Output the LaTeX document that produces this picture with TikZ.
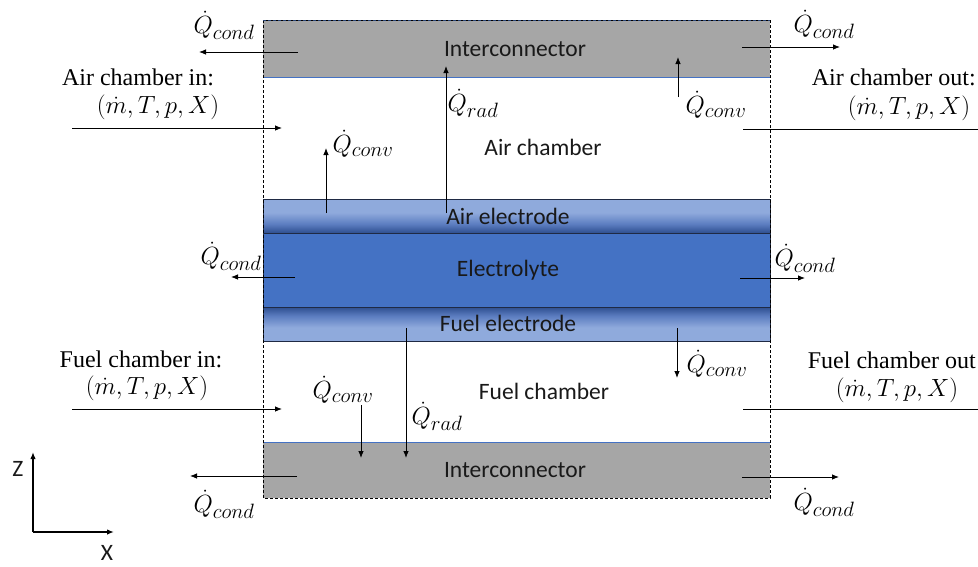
\documentclass[tikz,border=0pt]{standalone}
\usepackage{fontspec}
\setmainfont{Liberation Serif}
\newfontfamily\calfont{Carlito}
\DeclareMathSizes{24}{24}{20}{15}
\usetikzlibrary{arrows.meta}
\definecolor{icgray}{HTML}{A6A6A6}
\definecolor{elyte}{HTML}{4472C4}
\definecolor{elight}{HTML}{8FAADC}
\definecolor{emid}{HTML}{5B7CC0}
\definecolor{edark}{HTML}{2E4F8F}
\definecolor{lineblue}{HTML}{4472C4}
\definecolor{bord}{HTML}{1F2A44}
\pgfdeclareverticalshading{airel}{100bp}{color(0bp)=(edark); color(25bp)=(edark); color(38bp)=(emid); color(55bp)=(elight); color(75bp)=(elight); color(100bp)=(elight)}
\pgfdeclareverticalshading{fuelel}{100bp}{color(0bp)=(elight); color(25bp)=(elight); color(45bp)=(elight); color(62bp)=(emid); color(75bp)=(edark); color(100bp)=(edark)}
\begin{document}
\begin{tikzpicture}[x=1pt,y=1pt,
  cal/.style={font=\calfont\fontsize{23.5}{28}\selectfont, inner sep=0pt, text=black!90},
  ser/.style={font=\fontsize{24}{28}\selectfont, inner sep=0pt},
  qlab/.style={font=\fontsize{24}{28}\selectfont, inner sep=0pt},
  flow/.style={-{Latex[length=7pt,width=5.5pt]}, line width=0.8pt},
  plainline/.style={line width=0.8pt},
  layer/.style={draw=bord, line width=0.8pt},
  dframe/.style={draw=black, line width=0.7pt, dash pattern=on 3pt off 2pt},
  axis/.style={-{Latex[length=7pt,width=5.5pt]}, line width=1.5pt}]
\useasboundingbox (0,0) rectangle (978,-566);
% interconnectors
\fill[icgray] (263,-20) rectangle (770,-77);
\fill[icgray] (263,-442) rectangle (770,-498);
\draw[lineblue, line width=0.8pt] (263,-77) -- (770,-77);
\draw[lineblue, line width=0.8pt] (263,-442) -- (770,-442);
% cell layers
\shade[shading=airel] (263,-199) rectangle (770,-233);
\fill[elyte] (263,-233) rectangle (770,-307);
\shade[shading=fuelel] (263,-307) rectangle (770,-341);
\draw[layer] (263,-199) rectangle (770,-341);
\draw[layer] (263,-233) -- (770,-233);
\draw[layer] (263,-307) -- (770,-307);
% dashed frame
\draw[dframe] (263,-20) rectangle (770,-498);
\draw[lineblue!60!black, line width=0.7pt, dash pattern=on 3pt off 2pt] (263,-20) -- (770,-20);
% region texts
\node[cal] (ictop) at (515,-49) {Interconnector};
\node[cal] (airch) at (543,-147) {Air chamber};
\node[cal] (airel) at (508,-216) {Air electrode};
\node[cal] (elyt) at (508,-270) {Electrolyte};
\node[cal] (fuelel) at (508,-323) {Fuel electrode};
\node[cal] (fuelch) at (544,-391) {Fuel chamber};
\node[cal] (icbot) at (515,-470) {Interconnector};
% inlet / outlet texts
\node[ser] (ain1) at (138,-77) {Air chamber in:};
\node[ser] (ain2) at (158,-107) {$(\dot{m},T,p,X)$};
\node[ser, anchor=east] (aout1) at (976,-77) {Air chamber out:};
\node[ser] (aout2) at (909,-108) {$(\dot{m},T,p,X)$};
\node[ser] (fin1) at (141,-359) {Fuel chamber in:};
\node[ser] (fin2) at (147,-388) {$(\dot{m},T,p,X)$};
\node[ser, anchor=east] (fout1) at (976,-360) {Fuel chamber out};
\node[ser] (fout2) at (897,-390) {$(\dot{m},T,p,X)$};
% heat flow labels
\node[qlab] (qc1) at (224,-25) {$\dot{Q}_{cond}$};
\node[qlab] (qc2) at (824,-24) {$\dot{Q}_{cond}$};
\node[qlab] (qv1) at (363,-144) {$\dot{Q}_{conv}$};
\node[qlab] (qr1) at (473,-103) {$\dot{Q}_{rad}$};
\node[qlab] (qv2) at (716,-105) {$\dot{Q}_{conv}$};
\node[qlab] (qc3) at (231,-256) {$\dot{Q}_{cond}$};
\node[qlab] (qc4) at (805,-258) {$\dot{Q}_{cond}$};
\node[qlab] (qv3) at (343,-390) {$\dot{Q}_{conv}$};
\node[qlab] (qr2) at (437,-416) {$\dot{Q}_{rad}$};
\node[qlab] (qv4) at (717,-364) {$\dot{Q}_{conv}$};
\node[qlab] (qc5) at (224,-504) {$\dot{Q}_{cond}$};
\node[qlab] (qc6) at (824,-502) {$\dot{Q}_{cond}$};
% arrow end points
\coordinate (c1s) at (298,-52);  \coordinate (c1e) at (199,-52);
\coordinate (c2s) at (742,-47);  \coordinate (c2e) at (840,-47);
\coordinate (ais) at (72,-128);  \coordinate (aie) at (282,-128);
\coordinate (aos) at (743,-129); \coordinate (aoe) at (978,-129);
\coordinate (v1s) at (326,-213); \coordinate (v1e) at (326,-148);
\coordinate (r1s) at (446,-213); \coordinate (r1e) at (446,-66);
\coordinate (v2s) at (678,-97);  \coordinate (v2e) at (678,-57);
\coordinate (c3s) at (295,-277); \coordinate (c3e) at (231,-277);
\coordinate (c4s) at (740,-278); \coordinate (c4e) at (805,-278);
\coordinate (r2s) at (406,-328); \coordinate (r2e) at (406,-458);
\coordinate (v3s) at (361,-405); \coordinate (v3e) at (361,-458);
\coordinate (v4s) at (677,-328); \coordinate (v4e) at (677,-378);
\coordinate (fis) at (72,-409);  \coordinate (fie) at (282,-409);
\coordinate (fos) at (743,-409); \coordinate (foe) at (978,-409);
\coordinate (c5s) at (297,-476); \coordinate (c5e) at (190,-476);
\coordinate (c6s) at (742,-477); \coordinate (c6e) at (839,-477);
% arrows
\draw[flow] (c1s) -- (c1e);
\draw[flow] (c2s) -- (c2e);
\draw[flow] (ais) -- (aie);
\draw[plainline] (aos) -- (aoe);
\draw[flow] (v1s) -- (v1e);
\draw[flow] (r1s) -- (r1e);
\draw[flow] (v2s) -- (v2e);
\draw[flow] (c3s) -- (c3e);
\draw[flow] (c4s) -- (c4e);
\draw[flow] (r2s) -- (r2e);
\draw[flow] (v3s) -- (v3e);
\draw[flow] (v4s) -- (v4e);
\draw[flow] (fis) -- (fie);
\draw[plainline] (fos) -- (foe);
\draw[flow] (c5s) -- (c5e);
\draw[flow] (c6s) -- (c6e);
% axes
\coordinate (org) at (33,-532);
\coordinate (zt) at (33,-452);
\coordinate (xt) at (114,-532);
\draw[axis] (org) -- (zt);
\draw[axis] (org) -- (xt);
\node[cal] (zlab) at (18,-469) {Z};
\node[cal] (xlab) at (107,-553) {X};
\end{tikzpicture}
\end{document}
